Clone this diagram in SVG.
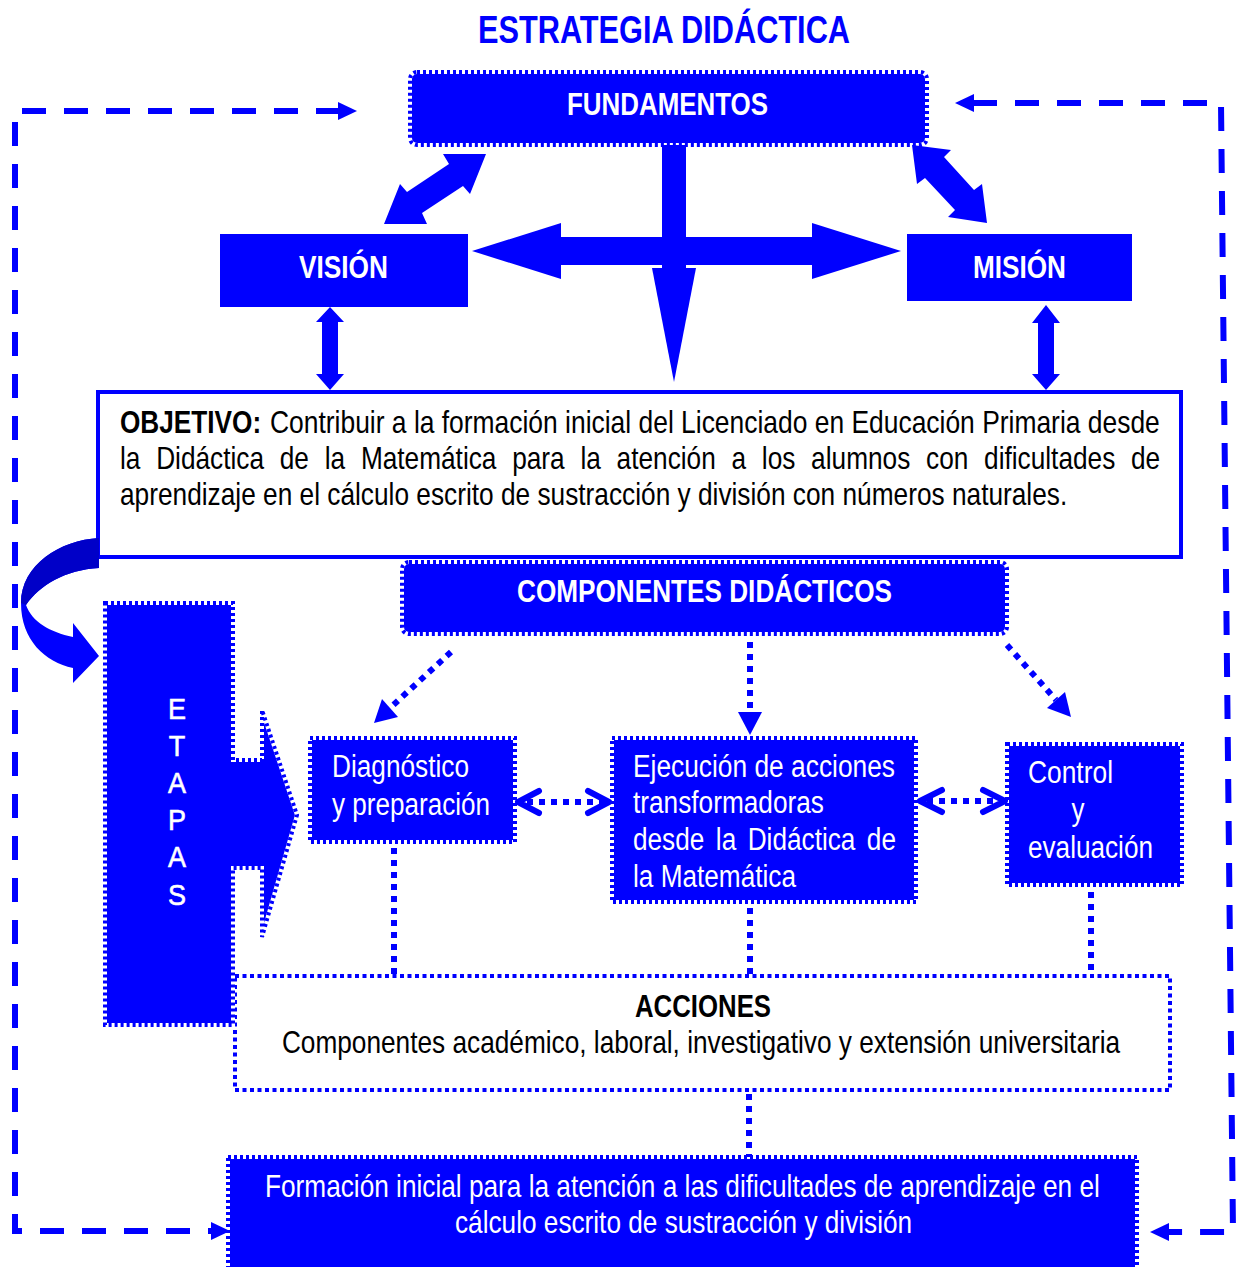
<svg xmlns="http://www.w3.org/2000/svg" width="1239" height="1267" viewBox="0 0 1239 1267">
<style>
.t{font-family:"Liberation Sans",Arial,sans-serif}
.b{font-weight:bold}
.w{fill:#fff}
.k{fill:#000}
.bl{fill:#00f}
.solid{fill:#00f}
.dotbox{fill:#00f;stroke:#fff;stroke-width:4}
.dotedge{fill:none;stroke:#00f;stroke-width:4;stroke-dasharray:3 3}
.dash{fill:none;stroke:#00f;stroke-width:6;stroke-dasharray:24 18}
.dot{fill:none;stroke:#00f;stroke-width:6;stroke-dasharray:6 6}
.chev{fill:none;stroke:#00f;stroke-width:6;stroke-linecap:round;stroke-linejoin:round}
.thin{fill:none;stroke:#00f;stroke-width:4;stroke-dasharray:4 3.5}
</style>
<rect width="1239" height="1267" fill="#fff"/>

<g id="title">
<text class="t b bl" x="478" y="43" font-size="38" textLength="372" lengthAdjust="spacingAndGlyphs">ESTRATEGIA DIDÁCTICA</text>
</g>

<g id="fundamentos">
<rect class="dotbox" x="410" y="72" width="517" height="73" rx="7"/>
<rect class="dotedge" x="410" y="72" width="517" height="73" rx="7"/>
<text class="t b w" x="567" y="115" font-size="31" textLength="201" lengthAdjust="spacingAndGlyphs">FUNDAMENTOS</text>
</g>

<g id="vision">
<rect class="solid" x="220" y="234" width="248" height="73"/>
<text class="t b w" x="299" y="278" font-size="31" textLength="89" lengthAdjust="spacingAndGlyphs">VISIÓN</text>
</g>

<g id="mision">
<rect class="solid" x="907" y="234" width="225" height="67"/>
<text class="t b w" x="973" y="278" font-size="31" textLength="93" lengthAdjust="spacingAndGlyphs">MISIÓN</text>
</g>

<g id="objetivo">
<rect x="98" y="392" width="1083" height="165" fill="#fff" stroke="#00f" stroke-width="4"/>
<text class="t b k" transform="translate(120,433) scale(0.845,1)" x="0" y="0" font-size="31" textLength="167" lengthAdjust="spacingAndGlyphs">OBJETIVO:</text>
<text class="t k" transform="translate(270,433) scale(0.845,1)" x="0" y="0" font-size="31" textLength="1053" lengthAdjust="spacingAndGlyphs">Contribuir a la formación inicial del Licenciado en Educación Primaria desde</text>
<text class="t k" transform="translate(120,469) scale(0.845,1)" x="0" y="0" font-size="31" word-spacing="10" textLength="1231" lengthAdjust="spacingAndGlyphs">la Didáctica de la Matemática para la atención a los alumnos con dificultades de</text>
<text class="t k" transform="translate(120,505) scale(0.845,1)" x="0" y="0" font-size="31" textLength="1121" lengthAdjust="spacingAndGlyphs">aprendizaje en el cálculo escrito de sustracción y división con números naturales.</text>
</g>

<g id="componentes">
<rect class="dotbox" x="402" y="562" width="605" height="72" rx="7"/>
<rect class="dotedge" x="402" y="562" width="605" height="72" rx="7"/>
<text class="t b w" x="517" y="602" font-size="31" textLength="375" lengthAdjust="spacingAndGlyphs">COMPONENTES DIDÁCTICOS</text>
</g>

<g id="acciones">
<rect x="235" y="976" width="935" height="114" fill="#fff"/>
<rect class="thin" x="235" y="976" width="935" height="114"/>
<text class="t b k" transform="translate(703,1017) scale(0.845,1)" x="0" y="0" font-size="31" text-anchor="middle" textLength="161" lengthAdjust="spacingAndGlyphs">ACCIONES</text>
<text class="t k" transform="translate(701,1053) scale(0.845,1)" x="0" y="0" font-size="31" text-anchor="middle" textLength="992" lengthAdjust="spacingAndGlyphs">Componentes académico, laboral, investigativo y extensión universitaria</text>
</g>

<g id="etapas">
<polygon class="dotbox" points="105,603 233,603 233,760 262,760 262,710 297,815 262,937 262,868 233,868 233,1025 105,1025"/>
<polygon class="dotedge" points="105,603 233,603 233,760 262,760 262,710 297,815 262,937 262,868 233,868 233,1025 105,1025"/>
<g transform="translate(177,0) scale(0.9,1)">
<text class="t w" font-size="30" text-anchor="middle" style="stroke:#fff;stroke-width:0.6"><tspan x="0" y="719">E</tspan><tspan x="0" y="756">T</tspan><tspan x="0" y="793">A</tspan><tspan x="0" y="830">P</tspan><tspan x="0" y="867">A</tspan><tspan x="0" y="905">S</tspan></text>
</g>
</g>

<g id="diagnostico">
<rect class="dotbox" x="310" y="738" width="205" height="104"/>
<rect class="dotedge" x="310" y="738" width="205" height="104"/>
<text class="t w" x="332" y="777" font-size="31" textLength="137" lengthAdjust="spacingAndGlyphs">Diagnóstico</text>
<text class="t w" x="332" y="815" font-size="31" textLength="158" lengthAdjust="spacingAndGlyphs">y preparación</text>
</g>

<g id="ejecucion">
<rect class="dotbox" x="612" y="738" width="304" height="164"/>
<rect class="dotedge" x="612" y="738" width="304" height="164"/>
<text class="t w" x="633" y="777" font-size="31" textLength="262" lengthAdjust="spacingAndGlyphs">Ejecución de acciones</text>
<text class="t w" x="633" y="813" font-size="31" textLength="191" lengthAdjust="spacingAndGlyphs">transformadoras</text>
<text class="t w" x="633" y="850" font-size="31" word-spacing="5" textLength="263" lengthAdjust="spacingAndGlyphs">desde la Didáctica de</text>
<text class="t w" x="633" y="887" font-size="31" textLength="163" lengthAdjust="spacingAndGlyphs">la Matemática</text>
</g>

<g id="control">
<rect class="dotbox" x="1007" y="744" width="175" height="141"/>
<rect class="dotedge" x="1007" y="744" width="175" height="141"/>
<text class="t w" x="1028" y="783" font-size="31" textLength="85" lengthAdjust="spacingAndGlyphs">Control</text>
<text class="t w" x="1078" y="820" font-size="31" text-anchor="middle" textLength="13" lengthAdjust="spacingAndGlyphs">y</text>
<text class="t w" x="1028" y="858" font-size="31" textLength="125" lengthAdjust="spacingAndGlyphs">evaluación</text>
</g>

<g id="formacion">
<rect class="dotbox" x="228" y="1157" width="909" height="116"/>
<rect class="dotedge" x="228" y="1157" width="909" height="116"/>
<text class="t w" transform="translate(265,1197) scale(0.845,1)" x="0" y="0" font-size="31" textLength="988" lengthAdjust="spacingAndGlyphs">Formación inicial para la atención a las dificultades de aprendizaje en el</text>
<text class="t w" transform="translate(455,1233) scale(0.845,1)" x="0" y="0" font-size="31" textLength="541" lengthAdjust="spacingAndGlyphs">cálculo escrito de sustracción y división</text>
</g>

<g id="connectors">
<path class="dash" d="M340,111 L15,111 L15,1231 L212,1231"/>
<polygon class="bl" points="338,102 357,111 338,120"/>
<polygon class="bl" points="211,1222 230,1231 211,1240"/>
<path class="dash" d="M973,103 L1221,103 L1233,1232 L1168,1232"/>
<polygon class="bl" points="974,94 955,103 974,112"/>
<polygon class="bl" points="1169,1223 1150,1232 1169,1241"/>

<g class="bl">
<rect x="662" y="145" width="24" height="126"/>
<rect x="555" y="237" width="262" height="28"/>
<polygon points="561,223 472,251 561,279"/>
<polygon points="812,223 901,251 812,279"/>
<polygon points="652,268 696,268 674,382"/>
<polygon points="384,224 400,184 407,192 449,164 443,154 486,154 470,194 463,186 422,213 427,224"/>
<polygon points="912,145 951,150 944,157 974,190 982,184 987,223 948,217 955,210 925,178 917,184"/>
<polygon points="330,307 344,322 338,322 338,374 344,374 330,390 316,374 322,374 322,322 316,322"/>
<polygon points="1046,305 1060,323 1054,323 1054,374 1060,374 1046,390 1032,374 1038,374 1038,323 1032,323"/>
</g>

<path fill="#00f" d="M99,538 C60,540 21,565 21,603 C21,640 45,662 73,668 L73,683 L99,656 L73,623 L73,637 C50,632 32,622 26,605 C40,585 65,570 99,568 Z"/>
<path fill="#0000c8" d="M99,538 C60,540 21,565 21,603 L26,605 C40,585 65,570 99,568 Z"/>

<path class="dot" d="M451,652 L390,708"/>
<polygon class="bl" points="374,723 382,699 398,717"/>
<path class="dot" d="M750,642 L750,713"/>
<polygon class="bl" points="738,712 762,712 750,735"/>
<path class="dot" d="M1007,645 L1056,700"/>
<polygon class="bl" points="1071,717 1047,708 1065,692"/>

<path class="dot" d="M527,802 L604,802"/>
<polyline class="chev" points="539,791 518,802 539,813"/>
<polyline class="chev" points="588,791 609,802 588,813"/>
<path class="dot" d="M927,801 L1000,801"/>
<polyline class="chev" points="942,790 920,801 942,812"/>
<polyline class="chev" points="983,790 1005,801 983,812"/>

<path class="dot" d="M394,848 L394,976"/>
<path class="dot" d="M750,908 L750,976"/>
<path class="dot" d="M1091,892 L1091,976"/>
<path class="dot" d="M749,1094 L749,1157"/>
</g>
</svg>
